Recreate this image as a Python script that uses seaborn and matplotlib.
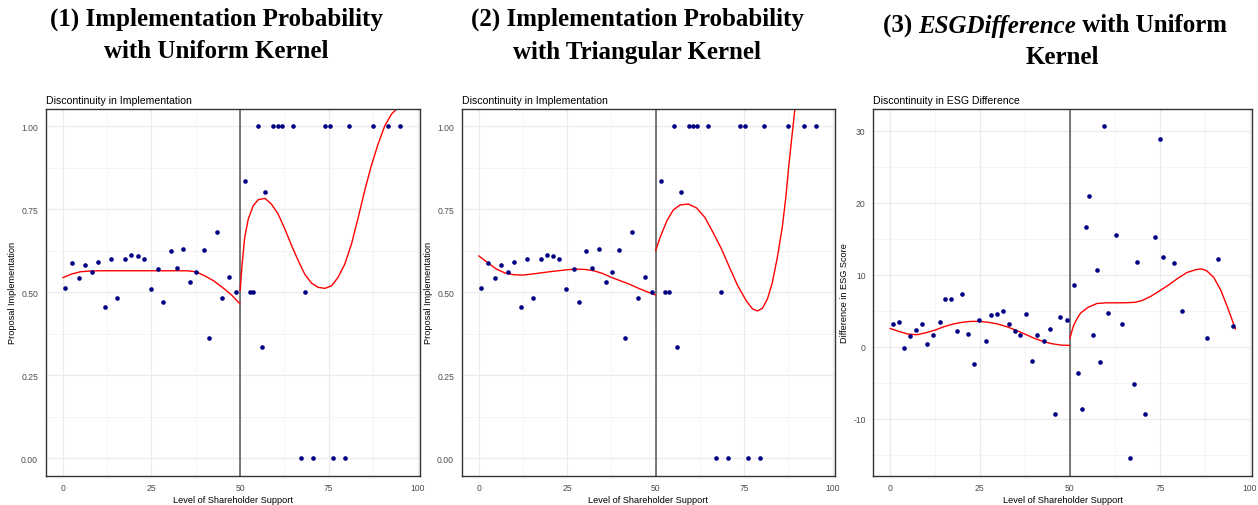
import numpy as np
import pandas as pd
import matplotlib
matplotlib.use("Agg")
import matplotlib.pyplot as plt
from matplotlib import font_manager as fm
from matplotlib import patheffects as pe
from matplotlib.ticker import FixedLocator
import seaborn as sns

# implementation data (same points in panels 1 and 2)
impl_x = [0.75, 2.6, 4.6, 6.4, 8.2, 9.9, 11.9, 13.6, 15.4, 17.5, 19.2, 21.1, 22.8, 24.8,
          26.8, 28.4, 30.4, 32.1, 34.0, 36.0, 37.7, 39.7, 41.3, 43.4, 45.0, 46.9, 48.9,
          51.5, 52.7, 53.75, 55.1, 56.1, 57.1, 59.3, 60.6, 61.8, 64.9, 67.1, 68.4, 70.5,
          73.9, 75.2, 76.2, 79.5, 80.6, 87.4, 91.8, 95.2]
impl_y = [0.514, 0.589, 0.543, 0.582, 0.561, 0.592, 0.457, 0.600, 0.483, 0.600, 0.613, 0.608,
          0.600, 0.511, 0.569, 0.470, 0.624, 0.574, 0.632, 0.532, 0.562, 0.627, 0.362, 0.682,
          0.483, 0.546, 0.502,
          0.836, 0.502, 0.502, 1.0, 0.334, 0.802, 1.0, 1.0, 1.0, 1.0, 0.0, 0.502, 0.0,
          1.0, 1.0, 0.0, 0.0, 1.0, 1.0, 1.0, 1.0]

# fitted curves, uniform kernel
uni_left_x = [0, 2.5, 5, 7.5, 10, 15, 20, 25, 30, 35, 37.5, 40, 42.5, 45, 47.5, 50]
uni_left_y = [0.544, 0.555, 0.562, 0.564, 0.565, 0.565, 0.565, 0.565, 0.565, 0.565,
              0.562, 0.550, 0.535, 0.515, 0.493, 0.465]
uni_right_x = [50, 50.56, 51.3, 52.3, 53.7, 55.1, 57.0, 58.8, 60.7, 62.6, 64.5, 66.4, 68.2,
               70.1, 72.0, 73.9, 75.8, 77.6, 79.5, 81.4, 83.3, 85.1, 87.0, 88.9, 90.8, 92.7,
               94.6, 96.0]
uni_right_y = [0.505, 0.585, 0.666, 0.721, 0.761, 0.779, 0.783, 0.766, 0.736, 0.691, 0.641,
               0.595, 0.555, 0.528, 0.515, 0.512, 0.520, 0.545, 0.585, 0.646, 0.726, 0.806,
               0.882, 0.947, 1.002, 1.037, 1.057, 1.075]

# fitted curves, triangular kernel
tri_left_x = [0, 2.5, 5, 7.5, 10, 12.5, 15, 20, 25, 27.5, 30, 32.5, 35, 37.5, 40, 42.5,
              45, 47.5, 50]
tri_left_y = [0.610, 0.590, 0.570, 0.558, 0.553, 0.552, 0.555, 0.562, 0.568, 0.570, 0.569,
              0.565, 0.557, 0.545, 0.535, 0.525, 0.513, 0.502, 0.492]
tri_right_x = [50, 51.3, 53.2, 55.0, 56.9, 59.2, 61.6, 63.9, 66.2, 68.6, 70.9, 73.2, 75.6,
               77.4, 78.8, 80.2, 81.6, 83.0, 84.4, 85.8, 86.8, 87.7, 88.6, 89.4, 90.2]
tri_right_y = [0.626, 0.666, 0.716, 0.748, 0.763, 0.766, 0.754, 0.726, 0.681, 0.631, 0.575,
               0.520, 0.475, 0.450, 0.444, 0.452, 0.480, 0.530, 0.605, 0.696, 0.786, 0.887,
               0.977, 1.055, 1.13]

# ESG difference data
esg_x = [0.74, 2.5, 3.9, 5.6, 7.3, 9.0, 10.4, 12.1, 13.8, 15.3, 16.9, 18.6, 20.1, 21.7,
         23.3, 24.9, 26.6, 28.2, 29.7, 31.4, 33.1, 34.7, 36.2, 37.9, 39.5, 41.0, 42.7,
         44.4, 45.8, 47.4, 49.2,
         51.2, 52.4, 53.4, 54.4, 55.4, 56.3, 57.5, 58.5, 59.4, 60.5, 62.7, 64.6, 66.7,
         67.7, 68.7, 70.9, 73.7, 75.0, 76.0, 79.0, 81.1, 88.1, 91.2, 95.3]
esg_y = [3.15, 3.5, -0.23, 1.53, 2.3, 3.15, 0.37, 1.67, 3.38, 6.62, 6.62, 2.18, 7.36, 1.8,
         -2.4, 3.75, 0.83, 4.44, 4.58, 4.95, 3.15, 2.18, 1.67, 4.58, -2.04, 1.67, 0.83,
         2.45, -9.31, 4.12, 3.75,
         8.56, -3.6, -8.7, 16.67, 20.9, 1.67, 10.6, -2.18, 30.65, 4.68, 15.56, 3.15, -15.46,
         -5.19, 11.8, -9.3, 15.3, 28.9, 12.5, 11.6, 4.95, 1.25, 12.2, 2.87]

esg_left_x = [0, 2.5, 5, 7.5, 10, 12.5, 15, 17.5, 20, 22.5, 25, 27.5, 30, 32.5, 35, 37.5,
              40, 42.5, 45, 47.5, 50]
esg_left_y = [2.55, 2.13, 1.76, 1.67, 1.94, 2.3, 2.78, 3.15, 3.38, 3.52, 3.52, 3.38, 3.15,
              2.78, 2.3, 1.76, 1.2, 0.74, 0.42, 0.23, 0.19]
esg_right_x = [50, 51, 52, 53, 55, 57.5, 60, 65, 68, 70, 72.5, 75, 77.5, 80, 82.5, 85, 86.5,
               88, 90, 92, 94, 95.5, 96]
esg_right_y = [1.16, 2.9, 3.9, 4.68, 5.46, 6.0, 6.1, 6.1, 6.16, 6.4, 7.0, 7.78, 8.6, 9.5,
               10.3, 10.7, 10.8, 10.56, 9.6, 7.78, 5.2, 3.15, 2.45]

x_ticks = [0, 25, 50, 75, 100]
impl_ticks = [0.0, 0.25, 0.5, 0.75, 1.0]
impl_labels = ["0.00", "0.25", "0.50", "0.75", "1.00"]
esg_ticks = [-10, 0, 10, 20, 30]

sns.set_style("white")
plt.rcParams['font.family'] = ['Liberation Sans', 'DejaVu Sans']
plt.rcParams['text.color'] = 'black'
plt.rcParams['axes.labelcolor'] = 'black'

fig = plt.figure(figsize=(12.58, 5.06), dpi=100)
W, H = 1258, 506


def add_panel(left, right, top=110, bottom=476.7):
    return fig.add_axes([left / W, (H - bottom) / H, (right - left) / W, (bottom - top) / H])


def style(ax, yticks, ylabels, yminor, ylim, xlim, ylab, subtitle):
    ax.set_xlim(xlim)
    ax.set_ylim(ylim)
    ax.set_xticks(x_ticks)
    ax.set_xticklabels([str(t) for t in x_ticks])
    ax.set_yticks(yticks)
    ax.set_yticklabels(ylabels)
    ax.xaxis.set_minor_locator(FixedLocator([12.5, 37.5, 62.5, 87.5]))
    ax.yaxis.set_minor_locator(FixedLocator(yminor))
    ax.grid(True, which="major", color="#EBEBEB", lw=0.9)
    ax.grid(True, which="minor", color="#F2F2F2", lw=0.6)
    ax.set_axisbelow(True)
    ax.tick_params(axis="both", which="major", labelsize=6.2, labelcolor="#4D4D4D",
                   length=2.5, width=0.6, color="#333333", pad=3)
    ax.tick_params(axis="both", which="minor", length=0)
    for s in ax.spines.values():
        s.set_color("#333333")
        s.set_linewidth(1.0)
    ax.set_xlabel("Level of Shareholder Support", fontsize=6.6, labelpad=2)
    ax.set_ylabel(ylab, fontsize=6.6, labelpad=3)
    ax.set_title(subtitle, loc="left", fontsize=7.6, pad=4, color="black")
    ax.axvline(50, color="#555555", lw=1.1, zorder=1)


def panel_points(ax, x, y, lx, ly, rx, ry):
    sns.lineplot(x=lx, y=ly, ax=ax, color="red", lw=1.0, zorder=2)
    sns.lineplot(x=rx, y=ry, ax=ax, color="red", lw=1.0, zorder=2)
    sns.scatterplot(x=x, y=y, ax=ax, color="#000080", s=11, linewidth=0, zorder=3)


ax1 = add_panel(45.7, 420)
panel_points(ax1, impl_x, impl_y, uni_left_x, uni_left_y, uni_right_x, uni_right_y)
style(ax1, impl_ticks, impl_labels, [0.125, 0.375, 0.625, 0.875], (-0.052, 1.052),
      (-4.8, 100.7), "Proposal Implementation", "Discontinuity in Implementation")

ax2 = add_panel(461.7, 835)
panel_points(ax2, impl_x, impl_y, tri_left_x, tri_left_y, tri_right_x, tri_right_y)
style(ax2, impl_ticks, impl_labels, [0.125, 0.375, 0.625, 0.875], (-0.052, 1.052),
      (-4.8, 100.7), "Proposal Implementation", "Discontinuity in Implementation")

ax3 = add_panel(873.3, 1252)
panel_points(ax3, esg_x, esg_y, esg_left_x, esg_left_y, esg_right_x, esg_right_y)
style(ax3, esg_ticks, [str(t) for t in esg_ticks], [-15, -5, 5, 15, 25], (-17.9, 33.0),
      (-4.6, 100.6), "Difference in ESG Score", "Discontinuity in ESG Difference")


# big serif headings - look for a real bold Liberation Serif, else thicken the regular one
def weight_num(w):
    if isinstance(w, (int, float)):
        return w
    return {"bold": 700, "heavy": 800, "black": 900, "semibold": 600, "demibold": 600}.get(str(w), 400)


def find_serif(italic):
    want = "italic" if italic else "normal"
    for f in fm.fontManager.ttflist:
        if f.name == "Liberation Serif" and weight_num(f.weight) >= 600 and f.style == want:
            return fm.FontProperties(fname=f.fname)
    return None


bold_fp = find_serif(False)
bolditalic_fp = find_serif(True)
fake = bold_fp is None
tsize = 18.0 if not fake else 19.4


def heading_kw(italic=False):
    if not fake:
        fp = (bolditalic_fp if italic and bolditalic_fp is not None else bold_fp).copy()
        fp.set_size(tsize)
        return dict(fontproperties=fp, color="black")
    return dict(family=['Liberation Serif', 'DejaVu Serif'], style="italic" if italic else "normal",
                size=tsize, color="black",
                path_effects=[pe.withStroke(linewidth=1.0, foreground="black")])


fig.text(216 / W, 1 - 19 / H, "(1) Implementation Probability", ha="center", va="center",
         **heading_kw())
fig.text(216 / W, 1 - 52 / H, "with Uniform Kernel", ha="center", va="center", **heading_kw())
fig.text(637 / W, 1 - 19 / H, "(2) Implementation Probability", ha="center", va="center",
         **heading_kw())
fig.text(637 / W, 1 - 52 / H, "with Triangular Kernel", ha="center", va="center", **heading_kw())

# panel 3 heading has an italic word, so place the pieces side by side
parts = [("(3) ", False), ("ESGDifference", True), (" with Uniform", False)]
r = fig.canvas.get_renderer()
objs = []
for txt, it in parts:
    objs.append(fig.text(0, 1 - 26 / H, txt, ha="left", va="center", **heading_kw(it)))
widths = [o.get_window_extent(renderer=r).width for o in objs]
x0 = 1055 - sum(widths) / 2
for o, w in zip(objs, widths):
    o.set_x(x0 / W)
    x0 += w
fig.text(1062 / W, 1 - 58 / H, "Kernel", ha="center", va="center", **heading_kw())

plt.savefig("out.png", dpi=100)
